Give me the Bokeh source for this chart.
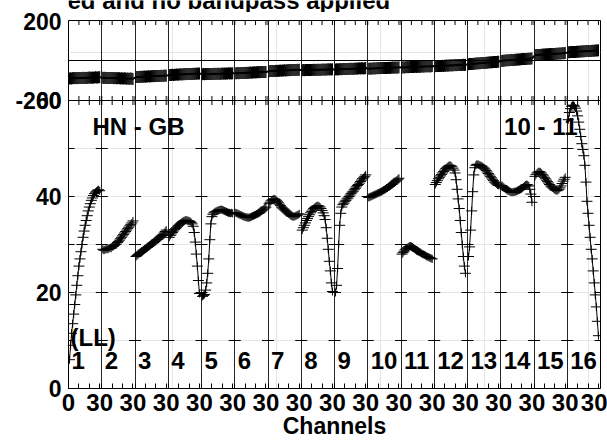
import numpy as np
from bokeh.plotting import figure
from bokeh.layouts import column
from bokeh.models import Range1d, FixedTicker, LinearAxis, Grid
from bokeh.core.properties import value
from bokeh.embed import file_html
from bokeh.resources import INLINE

# ---------------- data ----------------
N_IF = 16
PANEL = 32                      # channel span of one IF panel
CHANNELS = list(range(1, 31))   # plotted channels in every IF
IF_LABELS = [str(i) for i in range(1, 17)]

AMP = [
    [6.0, 9.0, 11.5, 13.5, 15.5, 17.5, 19.5, 21.5, 23.5, 25.5, 27.0, 28.5, 30.0, 31.5, 32.8, 34.0, 35.0, 36.0, 37.0, 37.8, 38.5, 39.2, 39.7, 40.2, 40.6, 40.9, 41.1, 41.3, 41.4, 41.2],
    [29.0, 28.8, 28.9, 29.0, 29.1, 29.0, 29.2, 29.3, 29.2, 29.5, 29.6, 29.8, 30.0, 30.1, 30.4, 30.6, 30.9, 31.2, 31.5, 31.8, 32.1, 32.4, 32.7, 33.0, 33.3, 33.6, 33.9, 34.2, 34.5, 34.9],
    [27.5, 27.7, 27.9, 28.1, 28.3, 28.4, 28.6, 28.8, 28.9, 29.1, 29.3, 29.4, 29.6, 29.8, 29.9, 30.1, 30.3, 30.4, 30.6, 30.8, 31.0, 31.1, 31.3, 31.5, 31.7, 31.9, 32.1, 32.4, 32.7, 33.0],
    [31.5, 31.9, 32.2, 32.5, 32.8, 33.1, 33.3, 33.5, 33.8, 34.0, 34.2, 34.4, 34.6, 34.8, 34.9, 35.0, 35.1, 35.0, 35.0, 34.9, 34.8, 34.6, 34.3, 33.8, 32.5, 30.5, 28.0, 25.5, 22.5, 19.8],
    [19.2, 19.4, 19.6, 20.5, 22.0, 24.0, 27.0, 31.0, 34.3, 35.8, 36.3, 36.6, 36.8, 36.9, 37.0, 37.1, 37.2, 37.2, 37.3, 37.2, 37.1, 37.0, 36.9, 36.8, 36.7, 36.6, 36.6, 36.5, 36.6, 36.5],
    [36.6, 36.5, 36.4, 36.3, 36.2, 36.1, 36.0, 35.9, 35.8, 35.7, 35.7, 35.6, 35.6, 35.6, 35.7, 35.8, 35.9, 36.0, 36.1, 36.2, 36.3, 36.4, 36.5, 36.6, 36.8, 37.0, 37.2, 37.4, 37.6, 37.8],
    [38.5, 38.8, 39.1, 39.3, 39.4, 39.5, 39.4, 39.2, 39.0, 38.7, 38.4, 38.1, 37.8, 37.6, 37.4, 37.2, 37.0, 36.8, 36.6, 36.4, 36.2, 36.0, 35.9, 35.8, 35.8, 35.9, 36.0, 36.1, 36.2, 36.4],
    [33.0, 33.5, 34.0, 34.5, 35.0, 35.4, 35.8, 36.2, 36.6, 36.9, 37.2, 37.5, 37.7, 37.9, 38.0, 38.1, 38.0, 37.8, 37.5, 37.1, 36.6, 36.0, 35.2, 33.5, 31.3, 29.0, 26.5, 24.5, 22.0, 20.2],
    [20.0, 21.5, 25.0, 30.0, 34.0, 36.5, 37.8, 38.3, 38.6, 38.9, 39.2, 39.5, 39.7, 40.0, 40.3, 40.6, 40.9, 41.1, 41.4, 41.7, 42.0, 42.3, 42.5, 42.8, 43.1, 43.4, 43.7, 43.9, 44.2, 44.5],
    [39.8, 39.9, 40.0, 40.1, 40.2, 40.3, 40.4, 40.5, 40.6, 40.7, 40.8, 40.9, 41.0, 41.1, 41.3, 41.4, 41.5, 41.7, 41.8, 42.0, 42.1, 42.3, 42.5, 42.6, 42.8, 43.0, 43.2, 43.4, 43.6, 43.8],
    [28.0, 28.3, 28.6, 28.9, 29.1, 29.3, 29.5, 29.6, 29.7, 29.6, 29.5, 29.3, 29.1, 28.9, 28.7, 28.6, 28.5, 28.4, 28.3, 28.1, 28.0, 27.9, 27.8, 27.6, 27.5, 27.4, 27.3, 27.2, 27.1, 27.0],
    [42.5, 42.9, 43.3, 43.7, 44.0, 44.3, 44.6, 44.9, 45.2, 45.5, 45.8, 46.0, 46.2, 46.4, 46.5, 46.4, 46.2, 45.9, 45.5, 44.9, 43.5, 41.5, 39.5, 37.5, 35.0, 32.5, 30.0, 27.5, 25.5, 24.0],
    [27.5, 29.5, 33.0, 37.0, 41.0, 44.5, 46.0, 46.5, 46.7, 46.7, 46.6, 46.5, 46.4, 46.3, 46.1, 45.9, 45.7, 45.4, 45.1, 44.8, 44.5, 44.2, 43.9, 43.6, 43.3, 43.0, 42.8, 42.6, 42.4, 42.3],
    [42.3, 42.1, 41.9, 41.7, 41.5, 41.3, 41.2, 41.1, 41.0, 40.9, 40.9, 40.9, 41.0, 41.0, 41.1, 41.2, 41.3, 41.4, 41.5, 41.6, 41.8, 42.0, 42.2, 42.4, 42.5, 42.4, 42.2, 41.5, 40.5, 38.8],
    [44.2, 44.6, 44.9, 45.1, 45.2, 45.1, 44.9, 44.6, 44.3, 44.0, 43.7, 43.4, 43.1, 42.8, 42.5, 42.2, 42.0, 41.8, 41.6, 41.4, 41.3, 41.2, 41.3, 41.5, 41.8, 42.2, 42.7, 43.2, 43.6, 44.0],
    [56.0, 57.5, 58.3, 58.8, 59.0, 59.0, 58.8, 58.4, 57.8, 56.8, 55.5, 54.0, 52.5, 51.0, 49.8, 48.5, 46.5, 43.0, 39.0, 36.5, 34.0, 31.5, 29.0, 27.0, 24.5, 22.0, 19.5, 17.0, 14.0, 11.0],
]

PHASE = [
    [-90, -89, -90, -88, -89, -88, -88, -89, -87, -88, -87, -88, -87, -86, -87, -87, -86, -87, -86, -85, -86, -86, -85, -86, -85, -84, -85, -85, -84, -84],
    [-86, -87, -86, -87, -87, -88, -87, -88, -88, -87, -88, -89, -88, -89, -89, -88, -89, -90, -89, -90, -90, -89, -90, -91, -90, -91, -91, -90, -91, -92],
    [-83, -82, -83, -82, -81, -82, -81, -81, -80, -81, -80, -80, -79, -80, -79, -79, -78, -79, -78, -78, -77, -78, -77, -77, -76, -77, -76, -76, -75, -76],
    [-73, -72, -72, -71, -72, -71, -71, -70, -71, -70, -70, -69, -70, -69, -69, -68, -69, -68, -68, -67, -68, -67, -67, -66, -67, -66, -66, -65, -66, -65],
    [-69, -68, -69, -68, -68, -67, -68, -67, -67, -68, -67, -66, -67, -66, -67, -66, -66, -67, -66, -65, -66, -65, -66, -65, -65, -64, -65, -64, -65, -64],
    [-64, -64, -63, -64, -63, -63, -62, -63, -62, -62, -61, -62, -61, -61, -60, -61, -60, -60, -59, -60, -59, -59, -58, -59, -58, -58, -57, -58, -57, -57],
    [-54, -53, -53, -52, -53, -52, -52, -51, -52, -51, -51, -50, -51, -50, -50, -49, -50, -49, -49, -48, -49, -48, -48, -47, -48, -47, -47, -46, -47, -46],
    [-49, -48, -49, -48, -48, -47, -48, -47, -47, -48, -47, -46, -47, -46, -47, -46, -46, -47, -46, -45, -46, -45, -46, -45, -45, -44, -45, -44, -45, -44],
    [-45, -44, -45, -44, -44, -43, -44, -43, -43, -42, -43, -42, -42, -41, -42, -41, -41, -42, -41, -40, -41, -40, -40, -39, -40, -39, -39, -40, -39, -38],
    [-41, -40, -41, -40, -40, -39, -40, -39, -39, -38, -39, -38, -38, -37, -38, -37, -37, -38, -37, -36, -37, -36, -36, -35, -36, -35, -35, -36, -35, -34],
    [-35, -34, -35, -34, -34, -33, -34, -33, -33, -32, -33, -32, -32, -31, -32, -31, -31, -32, -31, -30, -31, -30, -30, -29, -30, -29, -29, -30, -29, -28],
    [-29, -28, -28, -27, -28, -27, -27, -26, -27, -26, -26, -25, -26, -25, -25, -24, -25, -24, -24, -23, -24, -23, -23, -22, -23, -22, -22, -21, -22, -21],
    [-19, -18, -18, -17, -17, -16, -16, -15, -15, -14, -14, -14, -13, -13, -12, -12, -12, -11, -11, -10, -10, -9, -9, -9, -8, -8, -7, -7, -6, -6],
    [-2, -1, -1, 0, 0, 1, 1, 1, 2, 2, 3, 3, 3, 4, 4, 5, 5, 5, 6, 6, 7, 7, 7, 8, 8, 9, 9, 9, 10, 10],
    [26, 27, 27, 28, 28, 28, 29, 29, 30, 30, 30, 31, 31, 31, 32, 32, 32, 33, 33, 33, 34, 34, 34, 35, 35, 35, 36, 36, 36, 37],
    [41, 41, 42, 42, 42, 43, 43, 43, 44, 44, 44, 45, 45, 45, 46, 46, 46, 47, 47, 47, 48, 48, 48, 49, 49, 49, 50, 50, 50, 51],
]
PHASE_SPREAD = 30              # half-height of the phase bars (degrees)

AMP_RANGE = (0, 60)
AMP_TICKS = [0, 20, 40, 60]
AMP_MINOR = [10, 20, 30, 40, 50]
PHASE_RANGE = (-200, 200)
X_SUB_TICKS = [10, 20, 30]
X_LABELLED_SUB = 30

TITLE = "ed and no bandpass applied"
BASELINE = "HN - GB"
POL = "(LL)"
TIMES = "10 - 11"
X_LABEL = "Channels"

# ---------------- layout constants ----------------
W = 607
TITLE_H = 12
H = 445 - TITLE_H
LEFT, RIGHT, TOP, BOTTOM = 68, 7, 8, 57
PHASE_PX = 80
FRAME_H = H - TOP - BOTTOM
AMP_PX = FRAME_H - PHASE_PX
amp_per_px = (AMP_RANGE[1] - AMP_RANGE[0]) / AMP_PX
amp_top = AMP_RANGE[1] + PHASE_PX * amp_per_px
ph_per_px = (PHASE_RANGE[1] - PHASE_RANGE[0]) / PHASE_PX
ph_bottom = PHASE_RANGE[1] - FRAME_H * ph_per_px

FONT = "Liberation Sans"
FS = "24px"
FS_Y = "23px"
txt = dict(text_font=value(FONT), text_font_size=FS, text_font_style="bold", text_color="black")

# ---------------- title strip (text cut at the page edge, as in the reference) ----------------
pt = figure(width=W, height=TITLE_H, x_range=Range1d(0, W), y_range=Range1d(0, TITLE_H),
            output_backend="svg", toolbar_location=None, x_axis_location=None, y_axis_location=None,
            min_border_left=0, min_border_right=0, min_border_top=0, min_border_bottom=0)
pt.outline_line_color = None
pt.xgrid.visible = False
pt.ygrid.visible = False
pt.text(x=[0], y=[TITLE_H - 0.3], text=[TITLE], x_offset=-1, text_align="left",
        text_baseline="middle", **txt)

# ---------------- main figure ----------------
x_max = N_IF * PANEL
p = figure(width=W, height=H, x_range=Range1d(0, x_max), y_range=Range1d(AMP_RANGE[0], amp_top),
           output_backend="svg", toolbar_location=None,
           x_axis_location=None, y_axis_location=None,
           min_border_left=LEFT, min_border_right=RIGHT, min_border_top=TOP, min_border_bottom=BOTTOM)
p.extra_y_ranges = {"phase": Range1d(ph_bottom, PHASE_RANGE[1])}
p.outline_line_color = "black"
p.outline_line_width = 1
p.background_fill_color = "white"
p.border_fill_color = "white"

# ---------------- axes ----------------
major = [0] + [PANEL * k + X_LABELLED_SUB for k in range(N_IF)]
minor = sorted(set([PANEL * k + d for k in range(N_IF) for d in X_SUB_TICKS if d != X_LABELLED_SUB]
                   + [PANEL * k for k in range(1, N_IF)]))
overrides = {t: ("0" if t == 0 else str(X_LABELLED_SUB)) for t in major}
xaxis = LinearAxis(ticker=FixedTicker(ticks=major, minor_ticks=minor),
                   major_label_overrides=overrides,
                   major_tick_in=5, major_tick_out=0, minor_tick_in=5, minor_tick_out=0,
                   axis_line_color="black", major_tick_line_color="black", minor_tick_line_color="black",
                   major_label_standoff=5,
                   major_label_text_font=FONT, major_label_text_font_size=FS,
                   major_label_text_font_style="bold", major_label_text_color="black",
                   axis_label=X_LABEL, axis_label_text_font=FONT, axis_label_text_font_size="23px",
                   axis_label_text_font_style="bold", axis_label_standoff=-1, axis_label_text_color="black")
p.add_layout(xaxis, "below")

# left axis: amplitude ticks plus the phase limits (-200 at the panel join, 200 at the top)
phase_lo_pos = AMP_RANGE[1] + 1e-6
y_ticks = AMP_TICKS + [phase_lo_pos, amp_top]
y_over = {t: str(t) for t in AMP_TICKS}
y_over[phase_lo_pos] = str(PHASE_RANGE[0])
y_over[amp_top] = str(PHASE_RANGE[1])
yaxis = LinearAxis(ticker=FixedTicker(ticks=y_ticks), major_label_overrides=y_over,
                   major_tick_in=0, major_tick_out=0, minor_tick_in=0, minor_tick_out=0,
                   axis_line_color=None, major_label_standoff=7,
                   major_label_text_font=FONT, major_label_text_font_size=FS_Y,
                   major_label_text_font_style="bold", major_label_text_color="black")
p.add_layout(yaxis, "left")

# ---------------- grids ----------------
p.add_layout(Grid(dimension=0, ticker=FixedTicker(ticks=[PANEL * k for k in range(1, N_IF)]),
                  grid_line_color="black", grid_line_width=1, grid_line_alpha=0.85))
p.add_layout(Grid(dimension=1, ticker=FixedTicker(ticks=[0, PHASE_RANGE[0]]), y_range_name="phase",
                  grid_line_color="black", grid_line_width=1))

# tick marks inside panels
edges = [PANEL * k for k in range(N_IF + 1)]
ty_x = [e for e in edges for _ in AMP_MINOR]
ty_y = [v for _ in edges for v in AMP_MINOR]
p.scatter(x=ty_x, y=ty_y, marker="dash", size=12, line_color="black", line_width=1)
all_xt = sorted(set(major + minor))
p.scatter(x=all_xt, y=[AMP_RANGE[1]] * len(all_xt), marker="dash", angle=np.pi / 2, size=9,
          line_color="black", line_width=1)
p.scatter(x=all_xt, y=[PHASE_RANGE[1]] * len(all_xt), marker="dash", angle=np.pi / 2, size=9,
          line_color="black", line_width=1, y_range_name="phase")

# ---------------- phase panel ----------------
px, py = [], []
for k in range(N_IF):
    for c, v in zip(CHANNELS, PHASE[k]):
        px.append(PANEL * k + c)
        py.append(v)
py = np.array(py, dtype=float)
p.segment(x0=px, y0=py - PHASE_SPREAD, x1=px, y1=py + PHASE_SPREAD, line_color="black",
          line_width=1.2, y_range_name="phase")
p.line(x=px, y=py, line_color="black", line_width=2, y_range_name="phase")

# ---------------- amplitude panel ----------------
xs = [[PANEL * k + c for c in CHANNELS] for k in range(N_IF)]
p.multi_line(xs=xs, ys=AMP, line_color="black", line_width=1)
ax = [x for row in xs for x in row]
ay = [v for row in AMP for v in row]
p.scatter(x=ax, y=ay, marker="dash", size=11, line_color="black", line_width=1)
p.scatter(x=ax, y=ay, marker="dash", angle=np.pi / 2, size=8, line_color="black", line_width=1)

# ---------------- texts ----------------
p.text(x=[PANEL * k for k in range(N_IF)], y=[28 * amp_per_px] * N_IF, text=IF_LABELS,
       x_offset=3, text_baseline="middle", text_align="left", **txt)
p.text(x=[0], y=[51 * amp_per_px], text=[POL], x_offset=2, text_baseline="middle", **txt)
p.text(x=[0], y=[AMP_RANGE[1] - 26 * amp_per_px], text=[BASELINE], x_offset=24,
       text_baseline="middle", **txt)
p.text(x=[x_max], y=[AMP_RANGE[1] - 26 * amp_per_px], text=[TIMES], x_offset=-23,
       text_align="right", text_baseline="middle", **txt)

layout = column(pt, p, spacing=0)
open("out.html", "w").write(file_html(layout, INLINE))
